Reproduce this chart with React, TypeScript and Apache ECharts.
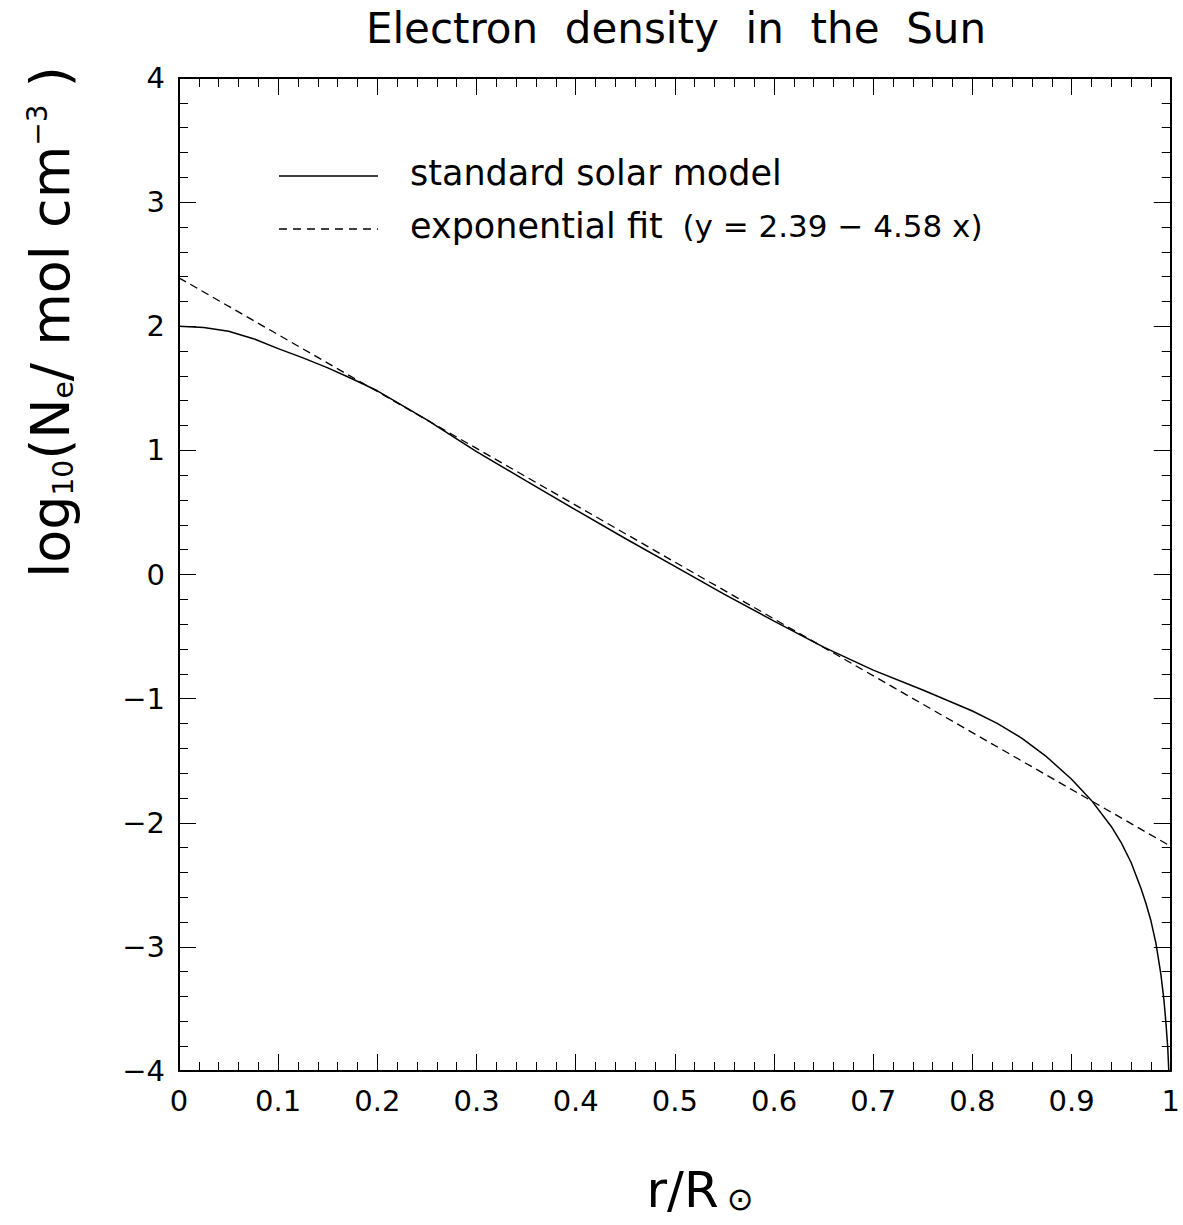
import React, { useEffect, useRef } from "react";
import * as echarts from "echarts";

// r / R_sun
const radius = [0, 0.025, 0.05, 0.075, 0.1, 0.125, 0.15, 0.175, 0.2, 0.25, 0.3, 0.35, 0.4, 0.45, 0.5, 0.55, 0.6, 0.65, 0.7, 0.75, 0.8, 0.825, 0.85, 0.875, 0.9, 0.92, 0.94, 0.95, 0.96, 0.97, 0.975, 0.98, 0.985, 0.99, 0.993, 0.995, 0.997, 0.998];
// log10(Ne / mol cm^-3), standard solar model
const logNe = [2.0, 1.99, 1.96, 1.9, 1.82, 1.745, 1.665, 1.575, 1.48, 1.245, 0.99, 0.755, 0.52, 0.29, 0.065, -0.16, -0.375, -0.585, -0.77, -0.93, -1.1, -1.2, -1.32, -1.47, -1.65, -1.82, -2.03, -2.16, -2.32, -2.53, -2.65, -2.79, -2.97, -3.22, -3.42, -3.6, -3.82, -4.0];
// exponential fit y = 2.39 - 4.58 x (end points)
const fitX = [0, 1];
const fitY = [2.39, -2.19];

const xMin = 0, xMax = 1, xStep = 0.1;
const yMin = -4, yMax = 4, yStep = 1;

const FONT = "DejaVu Sans";

export default function App() {
  const ref = useRef<HTMLDivElement>(null);
  useEffect(() => {
    if (!ref.current) return;
    const chart = echarts.init(ref.current, null, { renderer: "svg" });
    const axisLine = { show: true, onZero: false, lineStyle: { color: "#000", width: 2 } };
    const axisTick = { show: true, inside: true, length: 17, lineStyle: { color: "#000", width: 1 } };
    const minorTick = { show: true, splitNumber: 5, length: 9, lineStyle: { color: "#000", width: 1 } };
    const fmtY = (v: number) => (v < 0 ? "\u2212" + Math.abs(v) : String(v));
    chart.setOption({
      animation: false,
      backgroundColor: "#fff",
      grid: { left: 179, right: 11, top: 78, bottom: 154, containLabel: false },
      xAxis: [
        {
          type: "value", min: xMin, max: xMax, interval: xStep, position: "bottom",
          axisLine, axisTick, minorTick, splitLine: { show: false }, minorSplitLine: { show: false },
          axisLabel: { margin: 15, fontSize: 29, color: "#000", fontFamily: FONT },
        },
        {
          type: "value", min: xMin, max: xMax, interval: xStep, position: "top",
          axisLine, axisTick, minorTick, splitLine: { show: false },
          axisLabel: { show: false },
        },
      ],
      yAxis: [
        {
          type: "value", min: yMin, max: yMax, interval: yStep, position: "left",
          axisLine, axisTick, minorTick, splitLine: { show: false },
          axisLabel: { margin: 14, fontSize: 29, color: "#000", fontFamily: FONT, formatter: fmtY },
        },
        {
          type: "value", min: yMin, max: yMax, interval: yStep, position: "right",
          axisLine, axisTick, minorTick, splitLine: { show: false },
          axisLabel: { show: false },
        },
      ],
      series: [
        {
          type: "line",
          name: "standard solar model",
          data: radius.map((x, i) => [x, logNe[i]]),
          symbol: "none",
          smooth: false,
          lineStyle: { color: "#000", width: 1.5 },
        },
        {
          type: "line",
          name: "exponential fit",
          data: fitX.map((x, i) => [x, fitY[i]]),
          symbol: "none",
          lineStyle: { color: "#000", width: 1.3, type: [8, 5] },
        },
      ],
      graphic: [
        {
          type: "text", x: 676, y: 28,
          style: { text: "Electron  density  in  the  Sun", fontSize: 42, fontFamily: FONT, fill: "#000", align: "center", verticalAlign: "middle" },
        },
        { type: "line", shape: { x1: 279, y1: 176, x2: 378, y2: 176 }, style: { stroke: "#000", lineWidth: 1.3 } },
        {
          type: "text", x: 410, y: 173,
          style: { text: "standard solar model", fontSize: 35, fontFamily: FONT, fill: "#000", align: "left", verticalAlign: "middle" },
        },
        { type: "line", shape: { x1: 279, y1: 229, x2: 378, y2: 229 }, style: { stroke: "#000", lineWidth: 1.3, lineDash: [8, 6] } },
        {
          type: "text", x: 410, y: 226,
          style: {
            text: "{a|exponential fit}{b|  (y = 2.39 \u2212 4.58 x)}",
            align: "left", verticalAlign: "middle", fill: "#000",
            rich: {
              a: { fontSize: 35, fontFamily: FONT, fill: "#000" },
              b: { fontSize: 31, fontFamily: FONT, fill: "#000" },
            },
          },
        },
        {
          type: "text", x: 700, y: 1190,
          style: {
            text: "{m|r/R}{s|\u2299}",
            align: "center", verticalAlign: "middle", fill: "#000",
            rich: {
              m: { fontSize: 50, fontFamily: FONT, fill: "#000" },
              s: { fontSize: 32, fontFamily: FONT, fill: "#000", verticalAlign: "bottom", padding: [0, 0, 0, 8] },
            },
          },
        },
        {
          type: "text", x: 50, y: 322, rotation: Math.PI / 2,
          style: {
            text: "{m|log}{s|10}{m|(N}{s|e}{m|/ mol cm}{p|\u22123}{m| )}",
            align: "center", verticalAlign: "middle", fill: "#000",
            rich: {
              m: { fontSize: 54, fontFamily: FONT, fill: "#000", verticalAlign: "middle" },
              s: { fontSize: 28, fontFamily: FONT, fill: "#000", verticalAlign: "bottom" },
              p: { fontSize: 28, fontFamily: FONT, fill: "#000", verticalAlign: "top" },
            },
          },
        },
      ],
    });
    return () => chart.dispose();
  }, []);
  return <div ref={ref} style={{ position: "fixed", left: 0, top: 0, width: 1183, height: 1225, background: "#fff" }} />;
}
